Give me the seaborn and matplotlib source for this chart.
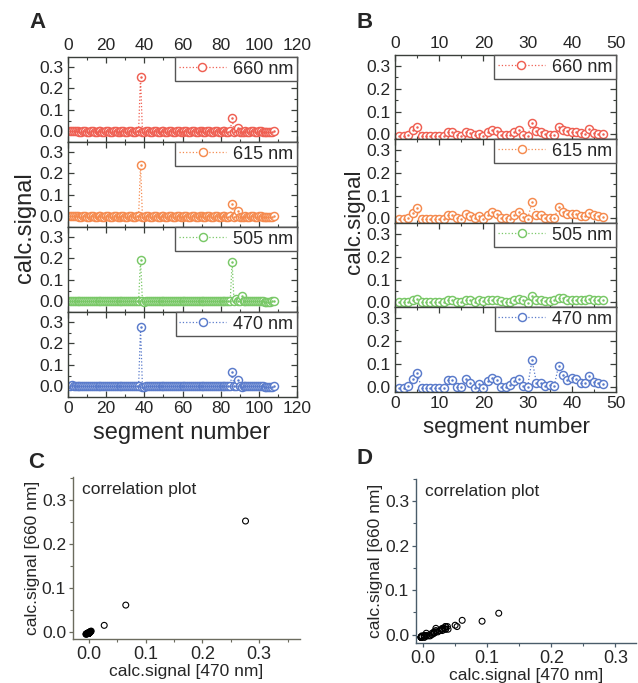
import numpy as np
import matplotlib
matplotlib.use("Agg")
import matplotlib.pyplot as plt
from matplotlib.ticker import MultipleLocator
import seaborn as sns

# -----------------------------------
# Data
# -----------------------------------

# panel A: 108 segments, mostly flat with spikes at 38 and 86
seg_A = list(range(1, 109))

sig660_A = [
    0.002, 0.003, 0.002, 0.001, 0.000, -0.002, -0.002, -0.001, -0.001, -0.002, -0.002, -0.001,
    -0.001, -0.002, -0.002, -0.001, -0.001, -0.002, -0.002, -0.001, -0.001, -0.002, -0.002, -0.001,
    -0.001, -0.002, -0.002, -0.001, -0.001, -0.002, -0.002, -0.001, -0.001, -0.002, -0.002, -0.001,
    0.000, 0.253, -0.002, -0.003, 0.000, -0.001, -0.002, -0.002, -0.001, -0.001, -0.002, -0.002,
    -0.001, -0.001, -0.002, -0.002, -0.001, -0.001, -0.002, -0.002, -0.001, -0.001, -0.002, -0.002,
    -0.001, -0.001, -0.002, -0.002, -0.001, -0.001, -0.002, -0.002, -0.001, -0.001, -0.002, -0.002,
    -0.001, -0.001, -0.002, -0.002, -0.001, -0.001, -0.002, -0.002, -0.001, -0.001, -0.002, -0.002,
    -0.001, 0.062, -0.002, -0.001, 0.016, -0.002, -0.003, -0.002, -0.001, -0.002, -0.002, -0.001,
    -0.001, -0.002, -0.002, -0.001, -0.001, -0.002, -0.003, -0.004, -0.004, -0.003, -0.002, -0.001,
]

sig615_A = [
    0.002, 0.003, 0.002, 0.001, 0.000, -0.002, -0.002, -0.001, -0.001, -0.002, -0.002, -0.001,
    -0.001, -0.002, -0.002, -0.001, -0.001, -0.002, -0.002, -0.001, -0.001, -0.002, -0.002, -0.001,
    -0.001, -0.002, -0.002, -0.001, -0.001, -0.002, -0.002, -0.001, -0.001, -0.002, -0.002, -0.001,
    0.000, 0.241, -0.002, -0.003, 0.000, -0.001, -0.002, -0.002, -0.001, -0.001, -0.002, -0.002,
    -0.001, -0.001, -0.002, -0.002, -0.001, -0.001, -0.002, -0.002, -0.001, -0.001, -0.002, -0.002,
    -0.001, -0.001, -0.002, -0.002, -0.001, -0.001, -0.002, -0.002, -0.001, -0.001, -0.002, -0.002,
    -0.001, -0.001, -0.002, -0.002, -0.001, -0.001, -0.002, -0.002, -0.001, -0.001, -0.002, -0.002,
    -0.001, 0.056, -0.002, -0.001, 0.024, -0.002, -0.003, -0.002, -0.001, -0.002, -0.002, -0.001,
    -0.001, -0.002, -0.002, -0.001, -0.001, -0.002, -0.003, -0.004, -0.004, -0.003, -0.002, -0.001,
]

sig505_A = [
    0.002, 0.003, 0.002, 0.001, 0.000, -0.001, -0.001, -0.001, -0.001, -0.001, -0.001, -0.001,
    -0.001, -0.001, -0.001, -0.001, -0.001, -0.001, -0.001, -0.001, -0.001, -0.001, -0.001, -0.001,
    -0.001, -0.001, -0.001, -0.001, -0.001, -0.001, -0.001, -0.001, -0.001, -0.001, -0.001, -0.001,
    0.000, 0.194, -0.001, -0.002, 0.000, -0.001, -0.001, -0.001, -0.001, -0.001, -0.001, -0.001,
    -0.001, -0.001, -0.001, -0.001, -0.001, -0.001, -0.001, -0.001, -0.001, -0.001, -0.001, -0.001,
    -0.001, -0.001, -0.001, -0.001, -0.001, -0.001, -0.001, -0.001, -0.001, -0.001, -0.001, -0.001,
    -0.001, -0.001, -0.001, -0.001, -0.001, -0.001, -0.001, -0.001, -0.001, -0.001, -0.001, -0.001,
    -0.001, 0.183, -0.001, 0.009, 0.000, -0.001, 0.024, 0.002, -0.001, -0.001, -0.001, -0.001,
    -0.001, -0.001, -0.001, -0.001, -0.001, -0.001, -0.002, -0.002, -0.002, -0.002, -0.001, -0.001,
]

sig470_A = [
    0.003, 0.004, 0.003, 0.002, 0.001, -0.001, -0.001, 0.000, 0.000, -0.001, -0.001, 0.000,
    0.000, -0.001, -0.001, 0.000, 0.000, -0.001, -0.001, 0.000, 0.000, -0.001, -0.001, 0.000,
    0.000, -0.001, -0.001, 0.000, 0.000, -0.001, -0.001, 0.000, 0.000, -0.001, -0.001, 0.000,
    0.001, 0.276, -0.002, -0.003, 0.002, 0.000, -0.001, -0.001, 0.000, 0.000, -0.001, -0.001,
    0.000, 0.000, -0.001, -0.001, 0.000, 0.000, -0.001, -0.001, 0.000, 0.000, -0.001, -0.001,
    0.000, 0.000, -0.001, -0.001, 0.000, 0.000, -0.001, -0.001, 0.000, 0.000, -0.001, -0.001,
    0.000, 0.000, -0.001, -0.001, 0.000, 0.000, -0.001, -0.001, 0.000, 0.000, -0.001, -0.001,
    0.000, 0.065, -0.001, 0.000, 0.027, -0.001, -0.002, -0.001, 0.000, -0.001, -0.001, 0.000,
    0.000, -0.001, -0.001, 0.000, 0.000, -0.001, -0.004, -0.005, -0.005, -0.004, -0.002, 0.000,
]

# panel B: 47 segments
seg_B = list(range(1, 48))

sig660_B = [
    -0.006, -0.006, -0.003, 0.018, 0.032, -0.006, -0.006, -0.006, -0.006, -0.006,
    -0.006, 0.012, 0.009, -0.002, -0.006, 0.012, 0.006, -0.003, 0.003, -0.006,
    0.012, 0.018, 0.014, -0.003, -0.003, -0.003, 0.009, 0.018, -0.002, -0.006,
    0.048, 0.014, 0.009, 0.003, -0.003, -0.003, 0.030, 0.018, 0.014, 0.012,
    0.012, 0.006, 0.003, 0.021, 0.006, 0.003, 0.000,
]

sig615_B = [
    -0.003, -0.003, 0.000, 0.022, 0.044, -0.003, -0.003, -0.003, -0.003, -0.003,
    -0.003, 0.016, 0.016, 0.000, -0.003, 0.019, 0.010, 0.000, 0.010, -0.003,
    0.016, 0.029, 0.019, 0.000, 0.000, -0.003, 0.013, 0.029, 0.006, -0.003,
    0.070, 0.013, 0.013, 0.000, 0.000, 0.000, 0.048, 0.029, 0.019, 0.019,
    0.019, 0.010, 0.010, 0.025, 0.013, 0.010, 0.006,
]

sig505_B = [
    0.002, 0.000, 0.002, 0.011, 0.014, 0.002, 0.002, 0.002, 0.002, 0.002,
    0.002, 0.011, 0.008, 0.002, 0.002, 0.008, 0.008, 0.002, 0.008, 0.005,
    0.008, 0.011, 0.011, 0.005, 0.002, 0.002, 0.011, 0.014, 0.008, -0.002,
    0.027, 0.011, 0.008, 0.005, 0.005, 0.008, 0.020, 0.017, 0.011, 0.011,
    0.011, 0.008, 0.011, 0.014, 0.011, 0.011, 0.008,
]

sig470_B = [
    -0.003, -0.003, 0.005, 0.035, 0.061, -0.003, -0.003, -0.003, -0.003, -0.003,
    -0.003, 0.030, 0.030, 0.002, 0.002, 0.035, 0.020, -0.002, 0.014, -0.002,
    0.029, 0.038, 0.030, 0.002, 0.002, 0.008, 0.026, 0.035, 0.005, 0.002,
    0.118, 0.020, 0.020, 0.005, 0.011, 0.005, 0.092, 0.053, 0.033, 0.039,
    0.035, 0.017, 0.017, 0.050, 0.023, 0.017, 0.014,
]

wavelengths = ["660 nm", "615 nm", "505 nm", "470 nm"]
colors = ["#ef5f52", "#f58a4e", "#79c867", "#5a7bcb"]

# -----------------------------------
# Style
# -----------------------------------

sns.set_style("ticks")
plt.rcParams["font.family"] = ["Liberation Sans", "DejaVu Sans"]
plt.rcParams["xtick.direction"] = "in"
plt.rcParams["ytick.direction"] = "in"

W, H = 638, 683
fig = plt.figure(figsize=(W / 100, H / 100), dpi=100)


def rect(l, t, r, b):
    return [l / W, 1 - b / H, (r - l) / W, (b - t) / H]


spine_col = "#3a3f3a"


def stack_panel(x0, x1, tops, seg, series, xlim, ylim, xmaj, xmin_):
    axes = []
    n = len(series)
    for i, vals in enumerate(series):
        ax = fig.add_axes(rect(x0, tops[i], x1, tops[i + 1]))
        c = colors[i]
        sns.lineplot(
            x=seg, y=vals, ax=ax, color=c, linestyle=":", linewidth=0.9,
            marker="o", markersize=5.8, markerfacecolor="white",
            markeredgecolor=c, markeredgewidth=1.05, label=wavelengths[i],
        )
        ax.plot(seg, vals, ls="none", marker=".", ms=1.6, color=c)
        ax.set_xlim(*xlim)
        ax.set_ylim(*ylim)
        ax.xaxis.set_major_locator(MultipleLocator(xmaj))
        ax.xaxis.set_minor_locator(MultipleLocator(xmin_))
        ax.yaxis.set_major_locator(MultipleLocator(0.1))
        ax.yaxis.set_minor_locator(MultipleLocator(0.05))
        ax.set_yticks([0.0, 0.1, 0.2, 0.3])
        ax.set_yticklabels(["0.0", "0.1", "0.2", "0.3"])
        ax.tick_params(which="both", top=True, right=True, color=spine_col,
                       labelsize=12.5, pad=3)
        ax.tick_params(which="major", length=4, width=0.9)
        ax.tick_params(which="minor", length=2.5, width=0.8)
        ax.tick_params(axis="x", labelbottom=(i == n - 1), labeltop=(i == 0))
        for s in ax.spines.values():
            s.set_color(spine_col)
            s.set_linewidth(1.0)
        ax.set_xlabel("")
        ax.set_ylabel("")
        leg = ax.legend(loc="upper right", fontsize=13, handlelength=2.6,
                        handletextpad=0.4, borderpad=0.2, borderaxespad=0.0,
                        fancybox=False, framealpha=1)
        leg.get_frame().set_edgecolor("#555555")
        leg.get_frame().set_linewidth(1.0)
        axes.append(ax)
    return axes


# -----------------------------------
# Panel A
# -----------------------------------

tops_A = [57, 142, 227, 312, 397]
stack_panel(68, 297, tops_A, seg_A, [sig660_A, sig615_A, sig505_A, sig470_A],
            (0, 120), (-0.05, 0.346), 20, 10)

# -----------------------------------
# Panel B
# -----------------------------------

tops_B = [55, 139, 223, 307, 392]
stack_panel(395, 616, tops_B, seg_B, [sig660_B, sig615_B, sig505_B, sig470_B],
            (0, 50), (-0.021, 0.349), 10, 5)

# axis titles of the stacked panels
fig.text(25 / W, 1 - 228 / H, "calc.signal", rotation=90, ha="center",
         va="center", fontsize=17)
fig.text(182 / W, 1 - 433 / H, "segment number", ha="center", va="center",
         fontsize=17)
fig.text(354 / W, 1 - 222 / H, "calc.signal", rotation=90, ha="center",
         va="center", fontsize=16)
fig.text(506 / W, 1 - 428 / H, "segment number", ha="center", va="center",
         fontsize=16)

# -----------------------------------
# Panels C and D (correlation)
# -----------------------------------


def corr_panel(r, x, y, xlim, ylim, sp_col):
    ax = fig.add_axes(r)
    sns.scatterplot(x=x, y=y, ax=ax, marker="o", s=18, facecolor="none",
                    edgecolor="black", linewidth=0.8)
    ax.set_xlim(*xlim)
    ax.set_ylim(*ylim)
    ax.set_xticks([0.0, 0.1, 0.2, 0.3])
    ax.set_xticklabels(["0.0", "0.1", "0.2", "0.3"])
    ax.set_yticks([0.0, 0.1, 0.2, 0.3])
    ax.set_yticklabels(["0.0", "0.1", "0.2", "0.3"])
    ax.xaxis.set_minor_locator(MultipleLocator(0.05))
    ax.yaxis.set_minor_locator(MultipleLocator(0.05))
    ax.tick_params(which="both", direction="out", color=sp_col, pad=2)
    ax.tick_params(axis="x", labelsize=13)
    ax.tick_params(axis="y", labelsize=12.5)
    ax.tick_params(which="major", length=3, width=0.9)
    ax.tick_params(which="minor", length=2, width=0.8)
    sns.despine(ax=ax)
    for s in ["left", "bottom"]:
        ax.spines[s].set_color(sp_col)
        ax.spines[s].set_linewidth(1.0)
    ax.set_xlabel("calc.signal [470 nm]", fontsize=12.5, labelpad=1)
    ax.set_ylabel("calc.signal [660 nm]", fontsize=12.5, labelpad=1)
    ax.text(0.04, 0.97, "correlation plot", transform=ax.transAxes,
            ha="left", va="top", fontsize=12.5)
    return ax


corr_panel(rect(73, 477, 300, 639), sig470_A, sig660_A,
           (-0.028, 0.372), (-0.015, 0.353), "#6b6b5e")
corr_panel(rect(416, 479, 636, 643), sig470_B, sig660_B,
           (-0.011, 0.332), (-0.019, 0.35), "#4a5c6a")

# -----------------------------------
# Panel letters
# -----------------------------------

for lab, (px, py) in {"A": (37, 23), "B": (365, 23),
                      "C": (36, 462), "D": (365, 458)}.items():
    fig.text(px / W, 1 - py / H, lab, ha="center", va="center",
             fontsize=16, fontweight="bold")

fig.savefig("out.png", dpi=100)
plt.close()
